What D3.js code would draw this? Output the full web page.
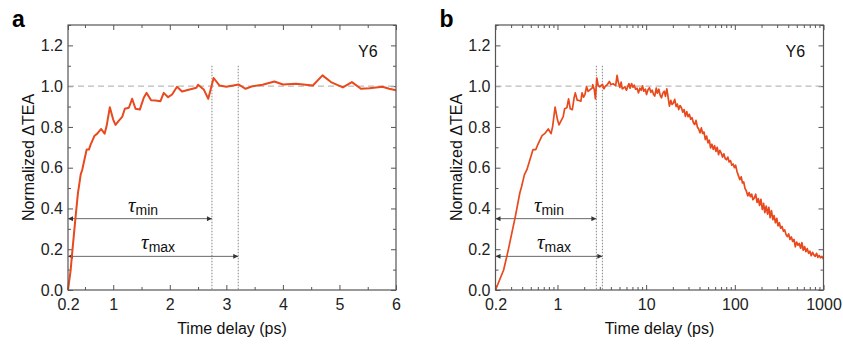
<!DOCTYPE html>
<html>
<head>
<meta charset="utf-8">
<script src="https://cdn.jsdelivr.net/npm/d3@7/dist/d3.min.js"></script>
<style>
  body { margin: 0; background: #fff; }
  svg { display: block; font-family: "Liberation Sans", Arial, sans-serif; }
  .tick text { font-size: 16px; fill: #222; }
</style>
</head>
<body>
<div id="chart"></div>
<script>
// time delay (ps) and normalized dTEA, first 6 ps (shown in both panels)
var delayEarly = [0.2, 0.247, 0.276, 0.335, 0.376, 0.394, 0.424, 0.452, 0.53, 0.57,
    0.6, 0.67, 0.717, 0.787, 0.847, 0.882, 0.94, 0.999, 1.04, 1.1,
    1.158, 1.205, 1.276, 1.334, 1.394, 1.47, 1.54, 1.588, 1.67, 1.747,
    1.835, 1.893, 1.97, 2.04, 2.128, 2.216, 2.47, 2.5, 2.6, 2.68,
    2.775, 2.88, 3.0, 3.22, 3.34, 3.47, 3.64, 3.85, 4.0, 4.23,
    4.53, 4.70, 4.85, 5.06, 5.22, 5.38, 5.53, 5.76, 5.88, 6.0];
var teaEarly = [0, 0.098, 0.188, 0.361, 0.476, 0.508, 0.566, 0.59, 0.689, 0.689,
    0.713, 0.757, 0.767, 0.79, 0.767, 0.803, 0.897, 0.836, 0.81, 0.831,
    0.849, 0.889, 0.894, 0.938, 0.889, 0.885, 0.943, 0.967, 0.931, 0.93,
    0.926, 0.967, 0.946, 0.959, 0.997, 0.974, 0.992, 1.007, 0.984, 0.938,
    1.04, 1.003, 0.997, 1.008, 0.987, 1.0, 1.007, 1.023, 1.008, 1.012,
    1.003, 1.053, 1.02, 0.994, 1.02, 0.987, 0.99, 0.997, 0.987, 0.98];

// long delay tail, only in panel b
var delayTail = [6.2, 6.4, 6.6, 6.85, 7.1, 7.35, 7.6, 7.9, 8.2, 8.5,
    8.8, 9.1, 9.4, 9.8, 10.1, 10.5, 10.9, 11.3, 11.7, 12.1,
    12.5, 13.0, 13.4, 13.9, 14.4, 14.9, 15.4, 16.0, 16.5, 17.1,
    17.7, 18.3, 19.0, 19.6, 20.3, 21.0, 21.8, 22.5, 23.3, 24.1,
    25.0, 25.9, 26.8, 27.7, 28.7, 29.7, 30.7, 31.8, 32.9, 34.1,
    35.3, 36.5, 37.8, 39.1, 40.5, 41.9, 43.4, 44.9, 46.5, 48.1,
    49.8, 51.5, 53.3, 55.2, 57.1, 59.1, 61.2, 63.3, 65.5, 67.8,
    70.2, 72.6, 75.2, 77.8, 80.5, 83.3, 86.2, 89.3, 92.4, 95.6,
    99.0, 102, 106, 110, 114, 118, 122, 126, 130, 135,
    140, 145, 150, 155, 160, 166, 172, 178, 184, 190,
    197, 204, 211, 218, 226, 234, 242, 250, 259, 268,
    277, 287, 297, 307, 318, 329, 341, 353, 365, 378,
    391, 405, 419, 434, 449, 465, 481, 498, 515, 533,
    552, 571, 591, 612, 634, 656, 679, 703, 727, 753,
    779, 806, 835, 864, 894, 925, 958, 1000];
var teaTail = [0.998, 1.012, 0.99, 1.013, 0.995, 1.005, 0.985, 0.99, 0.967, 0.99,
    0.98, 1.002, 0.975, 0.985, 0.959, 0.982, 0.992, 0.97, 0.98, 0.96,
    0.951, 0.99, 0.965, 0.985, 0.955, 0.943, 0.965, 0.975, 0.95, 0.987,
    0.945, 0.902, 0.93, 0.91, 0.918, 0.935, 0.9, 0.912, 0.885, 0.905,
    0.894, 0.872, 0.885, 0.852, 0.875, 0.85, 0.862, 0.838, 0.845, 0.82,
    0.812, 0.832, 0.8, 0.79, 0.771, 0.795, 0.768, 0.775, 0.738, 0.755,
    0.722, 0.735, 0.697, 0.715, 0.69, 0.708, 0.68, 0.70, 0.664, 0.685,
    0.672, 0.652, 0.668, 0.645, 0.639, 0.652, 0.628, 0.635, 0.612, 0.618,
    0.6, 0.612, 0.58, 0.56, 0.541, 0.555, 0.525, 0.53, 0.5, 0.485,
    0.462, 0.478, 0.458, 0.47, 0.443, 0.452, 0.47, 0.43, 0.448, 0.415,
    0.445, 0.395, 0.425, 0.38, 0.412, 0.372, 0.405, 0.355, 0.39, 0.345,
    0.365, 0.33, 0.352, 0.315, 0.33, 0.303, 0.312, 0.288, 0.295, 0.272,
    0.262, 0.275, 0.248, 0.26, 0.238, 0.248, 0.212, 0.235, 0.22, 0.228,
    0.205, 0.232, 0.195, 0.213, 0.188, 0.203, 0.18, 0.19, 0.168, 0.185,
    0.172, 0.165, 0.18, 0.16, 0.17, 0.158, 0.165, 0.152];

var yTicks = [0, 0.2, 0.4, 0.6, 0.8, 1.0, 1.2];
var yMinor = [0.1, 0.3, 0.5, 0.7, 0.9, 1.1, 1.3];
var xTicksA = [0.2, 1, 2, 3, 4, 5, 6];
var xMinorA = [0.5, 1.5, 2.5, 3.5, 4.5, 5.5];
var xTicksB = [0.2, 1, 10, 100, 1000];
var xMinorB = [0.3, 0.4, 0.5, 0.6, 0.7, 0.8, 0.9, 2, 3, 4, 5, 6, 7, 8, 9,
    20, 30, 40, 50, 60, 70, 80, 90, 200, 300, 400, 500, 600, 700, 800, 900];

var tauMin = 2.745, tauMax = 3.21;      // ps
var tauMinLevel = 0.35, tauMaxLevel = 0.165;

var lineColor = '#e8491d';
var frameColor = '#555';

var width = 843, height = 345;
var svg = d3.select('#chart').append('svg')
    .attr('width', width)
    .attr('height', height);

var defs = svg.append('defs');
defs.append('marker')
    .attr('id', 'arrow')
    .attr('viewBox', '0 0 10 10')
    .attr('refX', 10).attr('refY', 5)
    .attr('markerUnits', 'userSpaceOnUse')
    .attr('markerWidth', 7).attr('markerHeight', 5)
    .attr('orient', 'auto-start-reverse')
  .append('path')
    .attr('d', 'M0,0L10,5L0,10z')
    .attr('fill', '#333');

function drawPanel(p) {
    var g = svg.append('g')
        .attr('transform', 'translate(' + p.left + ',' + p.top + ')');
    var w = p.width, h = p.height;

    var x = p.log ? d3.scaleLog().domain([0.2, 1000]).range([0, w])
                  : d3.scaleLinear().domain([0.2, 6]).range([0, w]);
    var y = d3.scaleLinear().domain([0, 1.3]).range([h, 0]);

    // ticks, all pointing inward
    function ax(gen, scale, vals, size, pad, fmt, tr) {
        var a = g.append('g')
            .attr('transform', tr)
            .call(gen(scale).tickValues(vals).tickSize(-size).tickPadding(pad)
                  .tickFormat(fmt));
        a.select('.domain').remove();
        a.selectAll('.tick line').attr('stroke', frameColor);
        return a;
    }
    var none = function () { return ''; };
    ax(d3.axisBottom, x, p.xTicks, 5, 5, p.xFmt, 'translate(0,' + h + ')')
        .selectAll('text').attr('dy', '0.95em');
    ax(d3.axisBottom, x, p.xMinor, 3, 0, none, 'translate(0,' + h + ')');
    ax(d3.axisTop, x, p.xTicks, 5, 0, none, 'translate(0,0)');
    ax(d3.axisTop, x, p.xMinor, 3, 0, none, 'translate(0,0)');
    ax(d3.axisLeft, y, yTicks, 5, 5, d3.format('.1f'), 'translate(0,0)');
    ax(d3.axisLeft, y, yMinor, 3, 0, none, 'translate(0,0)');
    ax(d3.axisRight, y, yTicks, 5, 0, none, 'translate(' + w + ',0)');
    ax(d3.axisRight, y, yMinor, 3, 0, none, 'translate(' + w + ',0)');

    // reference line at 1.0
    g.append('line')
        .attr('x1', 0).attr('x2', w)
        .attr('y1', y(1)).attr('y2', y(1))
        .attr('stroke', '#bbb').attr('stroke-width', 1.2)
        .attr('stroke-dasharray', '6,4');

    // tau markers
    [tauMin, tauMax].forEach(function (t) {
        g.append('line')
            .attr('x1', x(t)).attr('x2', x(t))
            .attr('y1', y(1.1)).attr('y2', h)
            .attr('stroke', '#777').attr('stroke-width', 0.9)
            .attr('stroke-dasharray', '1.5,1.5');
    });
    [[tauMin, tauMinLevel, 'min'], [tauMax, tauMaxLevel, 'max']].forEach(function (d) {
        g.append('line')
            .attr('x1', x(0.2)).attr('x2', x(d[0]))
            .attr('y1', y(d[1])).attr('y2', y(d[1]))
            .attr('stroke', '#444').attr('stroke-width', 0.8)
            .attr('marker-start', 'url(#arrow)')
            .attr('marker-end', 'url(#arrow)');
        var t = g.append('text')
            .attr('x', (x(0.2) + x(d[0])) / 2 - 12)
            .attr('y', y(d[1]) - 7)
            .attr('fill', '#111');
        t.append('tspan')
            .attr('font-family', '"Liberation Serif", serif')
            .attr('font-style', 'italic')
            .attr('font-size', 21)
            .text('τ');
        t.append('tspan')
            .attr('font-size', 14)
            .attr('dy', 3)
            .text(d[2]);
    });

    // data
    var line = d3.line()
        .x(function (d) { return x(d[0]); })
        .y(function (d) { return y(d[1]); });
    g.append('path')
        .datum(p.data)
        .attr('d', line)
        .attr('fill', 'none')
        .attr('stroke', lineColor)
        .attr('stroke-width', p.lineWidth)
        .attr('stroke-linejoin', 'round');

    // frame
    g.append('rect')
        .attr('width', w).attr('height', h)
        .attr('fill', 'none')
        .attr('stroke', frameColor).attr('stroke-width', 1.2);

    g.append('text')
        .attr('x', w - 38).attr('y', 32)
        .attr('font-size', 16).attr('fill', '#111')
        .text('Y6');

    g.append('text')
        .attr('x', w / 2).attr('y', h + 44)
        .attr('text-anchor', 'middle')
        .attr('font-size', 16).attr('fill', '#111')
        .text('Time delay (ps)');

    g.append('text')
        .attr('transform', 'rotate(-90)')
        .attr('x', -h / 2).attr('y', -34)
        .attr('text-anchor', 'middle')
        .attr('font-size', 16).attr('fill', '#111')
        .text('Normalized ΔTEA');

    svg.append('text')
        .attr('x', p.left - 56).attr('y', 27)
        .attr('font-size', 23).attr('font-weight', 'bold')
        .attr('fill', '#000')
        .text(p.label);
}

var dataA = delayEarly.map(function (t, i) { return [t, teaEarly[i]]; });
var dataB = dataA.concat(delayTail.map(function (t, i) { return [t, teaTail[i]]; }));

drawPanel({
    label: 'a', left: 68, top: 25, width: 328, height: 265,
    log: false, xTicks: xTicksA, xMinor: xMinorA,
    xFmt: function (d) { return String(d); },
    data: dataA, lineWidth: 2
});
drawPanel({
    label: 'b', left: 495.5, top: 25, width: 328, height: 265,
    log: true, xTicks: xTicksB, xMinor: xMinorB,
    xFmt: function (d) { return String(d); },
    data: dataB, lineWidth: 1.7
});
</script>
</body>
</html>
